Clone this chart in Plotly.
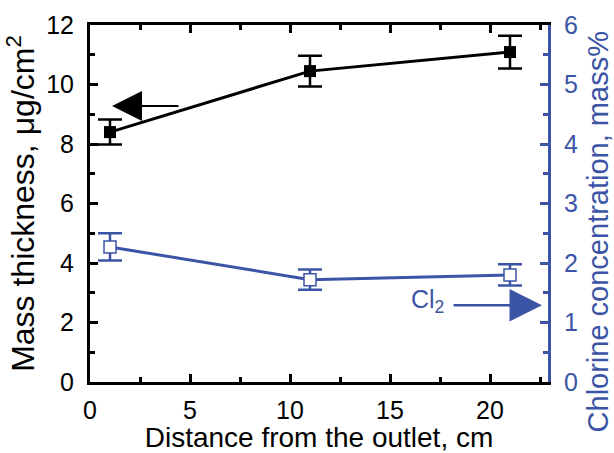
import plotly.graph_objects as go

distance = [1, 11, 21]
mass_thickness = [8.40, 10.45, 11.09]
mass_err = [0.42, 0.52, 0.55]
chlorine = [2.27, 1.72, 1.80]
chlorine_err = [0.23, 0.17, 0.18]

BLUE = "#3C54A5"
FONT = "Liberation Sans, Arial, sans-serif"

fig = go.Figure()
fig.add_trace(go.Scatter(
    x=distance, y=mass_thickness, mode="lines+markers",
    line=dict(color="black", width=3),
    marker=dict(symbol="square", size=12, color="black"),
    error_y=dict(type="data", array=mass_err, color="black", thickness=2.5, width=12),
    showlegend=False))
fig.add_trace(go.Scatter(
    x=distance, y=chlorine, mode="lines+markers", yaxis="y2",
    line=dict(color=BLUE, width=3),
    marker=dict(symbol="square", size=12, color="white", line=dict(width=1.5, color=BLUE)),
    error_y=dict(type="data", array=chlorine_err, color=BLUE, thickness=2.5, width=12),
    showlegend=False))

fig.update_layout(
    width=614, height=453,
    margin=dict(l=90, r=66, t=25, b=71),
    plot_bgcolor="white", paper_bgcolor="white",
    font=dict(family=FONT, size=25, color="black"),
    xaxis=dict(range=[0, 22.9], tickvals=[0, 5, 10, 15, 20], showline=True,
               linecolor="black", linewidth=3, mirror="ticks", ticks="inside",
               ticklen=8, tickwidth=3, tickcolor="black", showgrid=False, zeroline=False,
               minor=dict(dtick=2.5, ticks="inside", ticklen=5, tickwidth=3, tickcolor="black"),
               title=dict(text="Distance from the outlet, cm", font=dict(size=28), standoff=2),
               tickfont=dict(size=25), ticklabelstandoff=4, automargin=False),
    yaxis=dict(range=[0, 12], dtick=2, showline=True, linecolor="black", linewidth=3,
               ticks="inside", ticklen=8, tickwidth=3, tickcolor="black",
               showgrid=False, zeroline=False,
               minor=dict(dtick=1, ticks="inside", ticklen=5, tickwidth=3, tickcolor="black"),
               title=dict(text="Mass thickness, μg/cm<sup>2</sup>", font=dict(size=32), standoff=2),
               tickfont=dict(size=25), ticklabelstandoff=8, automargin=False),
    yaxis2=dict(range=[0, 6], dtick=1, overlaying="y", side="right", showline=True,
                linecolor=BLUE, linewidth=3, ticks="inside", ticklen=8, tickwidth=3,
                tickcolor=BLUE, showgrid=False, zeroline=False,
                minor=dict(dtick=0.5, ticks="inside", ticklen=5, tickwidth=3, tickcolor=BLUE),
                tickfont=dict(size=25, color=BLUE), ticklabelstandoff=8, automargin=False),
)

# right axis title (placed as text so it can sit slightly below the axis centre, as in the original)
fig.add_annotation(x=1.11, y=0.42, xref="paper", yref="paper", text="Chlorine concentration, mass%",
                   textangle=-90, showarrow=False, xanchor="center", yanchor="middle",
                   font=dict(size=29, color=BLUE))

fig.add_annotation(x=1.1, y=9.28, ax=4.5, ay=9.28, xref="x", yref="y", axref="x", ayref="y",
                   text="", showarrow=True, arrowhead=2, arrowsize=3, arrowwidth=2, arrowcolor="black")
fig.add_annotation(x=22.6, y=1.29, ax=18.1, ay=1.29, xref="x", yref="y2", axref="x", ayref="y2",
                   text="", showarrow=True, arrowhead=2, arrowsize=2.6, arrowwidth=2.5, arrowcolor=BLUE)
fig.add_annotation(x=17.8, y=1.36, xref="x", yref="y2", text="Cl<sub>2</sub>", showarrow=False,
                   xanchor="right", yanchor="middle", font=dict(size=25, color=BLUE))

fig.write_html("out.html", config={"displayModeBar": False},
               post_script="document.body.style.margin='0';")
